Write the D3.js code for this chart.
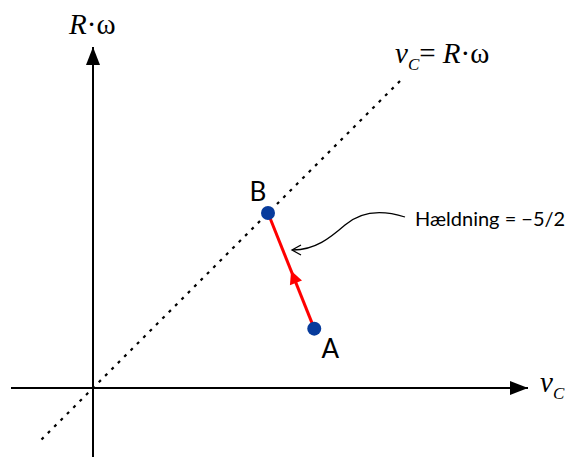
<!DOCTYPE html>
<html>
<head>
<meta charset="utf-8">
<script src="https://cdn.jsdelivr.net/npm/d3@7"></script>
<style>
  html, body { margin: 0; padding: 0; background: #fff; }
  svg { display: block; }
</style>
</head>
<body>
<svg id="chart" width="578" height="457"></svg>
<script>
// State points in the (v_C, R·ω) plane
const pointNames = ["A", "B"];
const vC = [8.85, 7.0];
const Rw = [2.375, 7.0];

// Extents of the drawn axes and the v_C = R·ω reference line (data units)
const xAxisExtent = [-3.28, 17.4];
const yAxisExtent = [-2.8, 13.64];
const diagExtent = [-2.06, 12.44];

const slopeText = "Hældning = −5/2";

const svg = d3.select("#chart");
const x = d3.scaleLinear().domain([0, 10]).range([93, 343]);
const y = d3.scaleLinear().domain([0, 10]).range([388, 138]);

// arrow markers
const defs = svg.append("defs");
defs.append("marker")
  .attr("id", "axisHead").attr("viewBox", "0 0 18 14")
  .attr("refX", 18).attr("refY", 7)
  .attr("markerWidth", 18).attr("markerHeight", 14)
  .attr("markerUnits", "userSpaceOnUse").attr("orient", "auto")
  .append("path").attr("d", "M0,0 L18,7 L0,14 Z").attr("fill", "#000");

// dotted reference line v_C = R·ω
svg.append("line")
  .attr("x1", x(diagExtent[0])).attr("y1", y(diagExtent[0]))
  .attr("x2", x(diagExtent[1])).attr("y2", y(diagExtent[1]))
  .attr("stroke", "#000").attr("stroke-width", 2.2)
  .attr("stroke-dasharray", "3 6");

// axes
svg.append("line")
  .attr("x1", x(xAxisExtent[0])).attr("y1", y(0))
  .attr("x2", x(xAxisExtent[1])).attr("y2", y(0))
  .attr("stroke", "#000").attr("stroke-width", 2)
  .attr("marker-end", "url(#axisHead)");
svg.append("line")
  .attr("x1", x(0)).attr("y1", y(yAxisExtent[0]))
  .attr("x2", x(0)).attr("y2", y(yAxisExtent[1]))
  .attr("stroke", "#000").attr("stroke-width", 2)
  .attr("marker-end", "url(#axisHead)");

// path from A to B
const A = { x: x(vC[0]), y: y(Rw[0]) };
const B = { x: x(vC[1]), y: y(Rw[1]) };
svg.append("line")
  .attr("x1", A.x).attr("y1", A.y).attr("x2", B.x).attr("y2", B.y)
  .attr("stroke", "#ff0000").attr("stroke-width", 3);

// direction arrowhead at the midpoint
const ang = Math.atan2(B.y - A.y, B.x - A.x) * 180 / Math.PI;
svg.append("path")
  .attr("d", "M0,0 L-13,-6.5 L-13,6.5 Z")
  .attr("fill", "#ff0000")
  .attr("transform", `translate(${(A.x + B.x) / 2},${(A.y + B.y) / 2}) rotate(${ang})`);

// points
svg.selectAll("circle.pt")
  .data(pointNames.map((n, i) => ({ n, vx: vC[i], vy: Rw[i] })))
  .join("circle").attr("class", "pt")
  .attr("cx", d => x(d.vx)).attr("cy", d => y(d.vy))
  .attr("r", 7).attr("fill", "#073b9c");

// point labels
const labelFont = "Lato, 'Liberation Sans', Arial, sans-serif";
svg.append("text").attr("x", A.x + 16).attr("y", A.y + 29)
  .attr("text-anchor", "middle").attr("font-family", labelFont)
  .attr("font-size", 26).text(pointNames[0]);
svg.append("text").attr("x", B.x - 10).attr("y", B.y - 12)
  .attr("text-anchor", "middle").attr("font-family", labelFont)
  .attr("font-size", 26).text(pointNames[1]);

// slope annotation
svg.append("text").attr("x", 415).attr("y", 226)
  .attr("font-family", labelFont).attr("font-size", 20)
  .text(slopeText);
svg.append("path")
  .attr("d", "M405,217 C380,209 360,212 345,225 C330,238 315,250 293,250")
  .attr("fill", "none").attr("stroke", "#000").attr("stroke-width", 1.3);
svg.append("path")
  .attr("d", "M301,245 L292,250 L301,255")
  .attr("fill", "none").attr("stroke", "#000").attr("stroke-width", 1.3);

// axis titles (serif, italic variables)
const serif = "'Liberation Serif', 'Times New Roman', serif";
const yt = svg.append("text").attr("x", 69).attr("y", 34)
  .attr("font-family", serif).attr("font-size", 29);
yt.append("tspan").attr("font-style", "italic").text("R");
yt.append("tspan").text("·ω");

const dt = svg.append("text").attr("x", 395).attr("y", 63)
  .attr("font-family", serif).attr("font-size", 29);
dt.append("tspan").attr("font-style", "italic").text("v");
dt.append("tspan").attr("font-style", "italic").attr("font-size", 17).attr("dy", 7).text("C");
dt.append("tspan").attr("dy", -7).text("= ");
dt.append("tspan").attr("font-style", "italic").text("R");
dt.append("tspan").text("·ω");

const xt = svg.append("text").attr("x", 540).attr("y", 392)
  .attr("font-family", serif).attr("font-size", 29);
xt.append("tspan").attr("font-style", "italic").text("v");
xt.append("tspan").attr("font-style", "italic").attr("font-size", 17).attr("dy", 7).text("C");
</script>
</body>
</html>
